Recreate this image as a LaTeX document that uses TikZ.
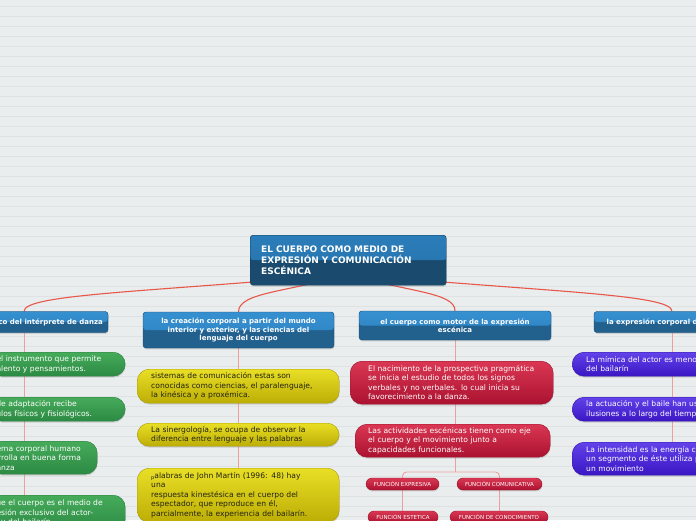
\documentclass[tikz,border=0pt]{standalone}
\usepackage{fontspec}
\setmainfont{DejaVu Sans}
\usetikzlibrary{shadows}
\definecolor{bgc}{HTML}{E9EDEE}
\definecolor{stripec}{HTML}{DEE2E3}
\definecolor{linkred}{HTML}{E8574A}
\definecolor{linkpink}{HTML}{EF9E9E}
\definecolor{cenbot}{HTML}{1A4B6E}
\definecolor{centopA}{HTML}{2B7DB9}
\definecolor{centopB}{HTML}{2471AA}
\definecolor{subbot}{HTML}{22608E}
\definecolor{subtopA}{HTML}{3690D0}
\definecolor{subtopB}{HTML}{2C80BE}
\definecolor{gtop}{HTML}{46AB5B}
\definecolor{gbot}{HTML}{2C8A43}
\definecolor{gdraw}{HTML}{2A7D3E}
\definecolor{ytop}{HTML}{E9DF26}
\definecolor{ybot}{HTML}{BCAD05}
\definecolor{ydraw}{HTML}{A89A00}
\definecolor{rtop}{HTML}{DA3753}
\definecolor{rbot}{HTML}{AB1230}
\definecolor{rdraw}{HTML}{9A1029}
\definecolor{ptop}{HTML}{6242E9}
\definecolor{pbot}{HTML}{3A16C4}
\definecolor{pdraw}{HTML}{3212A8}
\definecolor{ytext}{HTML}{222214}
\newcommand{\cutl}[2]{\mbox{\makebox[0pt][r]{#1}#2}}
\pgfdeclarelayer{bglayer}
\pgfsetlayers{bglayer,main}
\tikzset{
  shad/.style={drop shadow={shadow xshift=0.4pt, shadow yshift=-1.4pt, opacity=0.28}},
  topic/.style={shad, rounded corners=3pt, fill=cenbot, draw=cenbot!80!black, line width=0.4pt,
    text=white, font=\bfseries\fontsize{9}{11}\selectfont, align=left, inner xsep=11pt, inner ysep=0pt,
    path picture={\shade[top color=centopA, bottom color=centopB] (path picture bounding box.north west) rectangle (path picture bounding box.east);}},
  sub/.style={shad, rounded corners=3pt, fill=subbot, draw=subbot!80!black, line width=0.4pt,
    text=white, font=\bfseries\fontsize{7}{8.3}\selectfont, align=center, inner sep=0pt,
    path picture={\shade[top color=subtopA, bottom color=subtopB] (path picture bounding box.north west) rectangle (path picture bounding box.east);}},
  leaf/.style={shad, rounded corners=12pt, align=left, inner ysep=0pt, line width=0.4pt,
    font=\fontsize{7.6}{9.5}\selectfont, anchor=north west},
  greenleaf/.style={leaf, top color=gtop, bottom color=gbot, draw=gdraw, text=white, inner xsep=11pt},
  yellowleaf/.style={leaf, top color=ytop, bottom color=ybot, draw=ydraw, text=ytext, inner xsep=14pt},
  redleaf/.style={leaf, top color=rtop, bottom color=rbot, draw=rdraw, text=white},
  purpleleaf/.style={leaf, top color=ptop, bottom color=pbot, draw=pdraw, text=white, inner xsep=14pt},
  smallpill/.style={shad, rounded corners=6pt, top color=rtop, bottom color=rbot, draw=rdraw, line width=0.4pt,
    text=white, font=\fontsize{5.5}{6}\selectfont, inner sep=0pt, minimum height=12pt},
  mainlink/.style={draw=linkred, line width=1.1pt},
  sublink/.style={draw=linkpink, line width=0.9pt},
}
\begin{document}
\begin{tikzpicture}[x=1pt,y=-1pt]
\useasboundingbox (0,0) rectangle (696,520);
\clip (0,0) rectangle (696,520);

% central topic
\node[topic, anchor=north west, minimum width=196pt, minimum height=50pt, text width=174pt] (cn) at (250,235)
  {EL CUERPO COMO MEDIO DE\\EXPRESIÓN Y COMUNICACIÓN\\ESCÉNICA};

% main branches
\node[sub, minimum width=168pt, minimum height=21pt] (l1) at (24,322) {cuerpo artístico del intérprete de danza};
\node[sub, minimum width=191pt, minimum height=36pt] (l2) at (238.5,330)
  {la creación corporal a partir del mundo\\interior y exterior, y las ciencias del\\lenguaje del cuerpo};
\node[sub, minimum width=192pt, minimum height=29pt] (l3) at (455,325.5)
  {el cuerpo como motor de la expresión\\escénica};
\node[sub, minimum width=156pt, minimum height=21pt] (l4) at (672,322) {la expresión corporal del bailarín};

% green column
\node[greenleaf, minimum width=135pt, minimum height=24pt, text width=113pt] (g1) at (-10,352)
  {\cutl{El cuerpo es e}{l instrumento que permite}\\\cutl{expresar su ta}{lento y pensamientos.}};
\node[greenleaf, minimum width=135pt, minimum height=24pt, text width=113pt] (g2) at (-10,397)
  {\cutl{Su capacidad d}{e adaptación recibe}\\\cutl{estímu}{los físicos y fisiológicos.}};
\node[greenleaf, minimum width=107pt, minimum height=33pt, text width=85pt] (g3) at (-10,441)
  {\cutl{El siste}{ma corporal humano}\\\cutl{se desar}{rolla en buena forma}\\\cutl{con la da}{nza}};
\node[greenleaf, minimum width=135pt, minimum height=36pt, text width=113pt] (g4) at (-10,495)
  {\cutl{Se considera qu}{e el cuerpo es el medio de}\\\cutl{expre}{sión exclusivo del actor-}\\\cutl{bailarín }{y del bailarín}};

% yellow column
\node[yellowleaf, minimum width=202pt, minimum height=34pt, text width=174pt] (y1) at (137,369)
  {sistemas de comunicación estas son\\conocidas como ciencias, el paralenguaje,\\la kinésica y a proxémica.};
\node[yellowleaf, minimum width=202pt, minimum height=23pt, text width=174pt] (y2) at (137,423)
  {La sinergología, se ocupa de observar la\\diferencia entre lenguaje y las palabras};
\node[yellowleaf, minimum width=202pt, minimum height=54pt, text width=174pt] (y3) at (137,468)
  {\raisebox{-0.8pt}{\fontsize{5}{5}\selectfont p}alabras de John Martín (1996: 48) hay\\una\\respuesta kinestésica en el cuerpo del\\espectador, que reproduce en él,\\parcialmente, la experiencia del bailarín.};

% red column
\node[redleaf, inner xsep=18pt, minimum width=203pt, minimum height=43pt, text width=167pt] (r1) at (350,361)
  {El nacimiento de la prospectiva pragmática\\se inicia el estudio de todos los signos\\verbales y no verbales. lo cual inicia su\\favorecimiento a la danza.};
\node[redleaf, inner xsep=13pt, minimum width=195pt, minimum height=33pt, text width=169pt] (r2) at (355,424)
  {Las actividades escénicas tienen como eje\\el cuerpo y el movimiento junto a\\capacidades funcionales.};

\node[smallpill, minimum width=73pt] (fe) at (402.5,484) {FUNCIÓN EXPRESIVA};
\node[smallpill, minimum width=85pt] (fc) at (499.5,484) {FUNCIÓN COMUNICATIVA};
\node[smallpill, minimum width=70pt] (fs) at (403,517) {FUNCIÓN ESTETICA};
\node[smallpill, minimum width=98pt] (fk) at (499,517) {FUNCIÓN DE CONOCIMIENTO};

% purple column
\node[purpleleaf, minimum width=160pt, minimum height=24pt, text width=132pt] (p1) at (572,352)
  {\mbox{La mímica del actor es menos libre que la}\\\mbox{del bailarín}};
\node[purpleleaf, minimum width=160pt, minimum height=24pt, text width=132pt] (p2) at (572,397)
  {\mbox{la actuación y el baile han usado}\\\mbox{ilusiones a lo largo del tiempo}};
\node[purpleleaf, minimum width=160pt, minimum height=33pt, text width=132pt] (p3) at (572,442)
  {\mbox{La intensidad es la energía con que}\\\mbox{un segmento de éste utiliza para}\\\mbox{un movimiento}};

\begin{pgfonlayer}{bglayer}
  \clip (0,0) rectangle (696,520);
  \fill[bgc] (0,0) rectangle (696,520);
  \foreach \yy in {6,16,...,516} \draw[stripec, line width=0.8pt] (0,\yy) -- (696,\yy);
  \coordinate (hub) at (348,274);
  \draw[mainlink] (hub) .. controls (150,292) and (24,294) .. (l1.north);
  \draw[mainlink] (hub) .. controls (290,292) and (238.5,292) .. (l2.north);
  \draw[mainlink] (hub) .. controls (406,292) and (455,292) .. (l3.north);
  \draw[mainlink] (hub) .. controls (546,292) and (672,294) .. (l4.north);
  \draw[sublink] (l1.south) -- (l1.south |- g4.north);
  \draw[sublink] (l2.south) -- (l2.south |- y3.north);
  \draw[sublink] (l3.south) -- (l3.south |- r2.north);
  \coordinate (br) at (455,472);
  \draw[sublink] (l3.south |- r2.south) -- (br);
  \draw[sublink, rounded corners=4pt] (br) -| (fe.north);
  \draw[sublink, rounded corners=4pt] (br) -| (fc.north);
  \draw[sublink] (fe.south) -- (fe.south |- fs.north);
  \draw[sublink] (fc.south) -- (fc.south |- fk.north);
  \draw[sublink] (l4.south) -- (l4.south |- p3.north);
\end{pgfonlayer}
\end{tikzpicture}
\end{document}
